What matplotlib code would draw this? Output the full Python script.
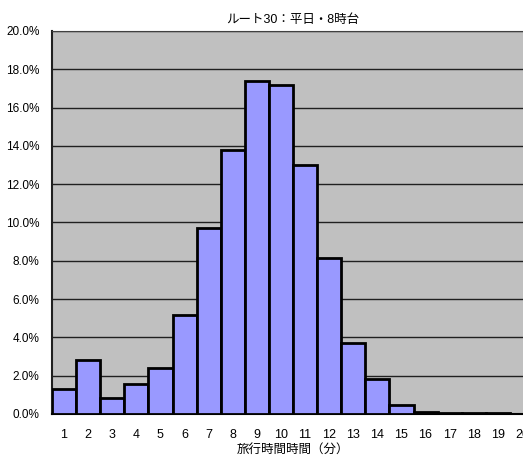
import matplotlib
matplotlib.use("Agg")
from matplotlib import pyplot as plt
from matplotlib.ticker import FuncFormatter

plt.rcParams['font.family'] = ['Liberation Sans', 'Noto Sans CJK JP', 'DejaVu Sans']

# travel time distribution, route 30, weekdays 8 o'clock
minutes = list(range(1, 21))
share = [1.32, 2.80, 0.84, 1.58, 2.42, 5.15, 9.71, 13.77, 17.37, 17.18,
         12.99, 8.15, 3.72, 1.83, 0.49, 0.12, 0.04, 0.04, 0.04, 0.0]
y_ticks = [0, 2, 4, 6, 8, 10, 12, 14, 16, 18, 20]

fig = plt.figure(figsize=(5.23, 4.57), dpi=100)
ax = fig.add_axes([52 / 523, 43 / 457, 482 / 523, 383 / 457])
ax.set_facecolor("#C0C0C0")

ax.bar(minutes, share, width=1.0, color="#9999FF", edgecolor="black",
       linewidth=2, zorder=3)

ax.set_xlim(0.5, 20.5)
ax.set_ylim(0, 20)
ax.set_yticks(y_ticks)
ax.yaxis.set_major_formatter(FuncFormatter(lambda v, _: f"{v:.1f}%"))
ax.set_xticks(minutes)
ax.grid(axis="y", color="#202020", linewidth=1.0, zorder=1)
ax.tick_params(axis="both", length=0)
ax.tick_params(axis="y", pad=9, labelsize=8.5)
ax.tick_params(axis="x", pad=11, labelsize=9)

ax.spines["right"].set_visible(False)
ax.spines["top"].set_color("#404040")
ax.spines["left"].set_color("#202020")
ax.spines["left"].set_linewidth(1.5)
ax.spines["bottom"].set_color("black")
ax.spines["bottom"].set_linewidth(1.5)

ax.set_title("ルート30：平日・8時台", fontsize=9, pad=6)
ax.set_xlabel("旅行時間時間（分）", fontsize=9, labelpad=2)

fig.savefig("out.png", dpi=100)
